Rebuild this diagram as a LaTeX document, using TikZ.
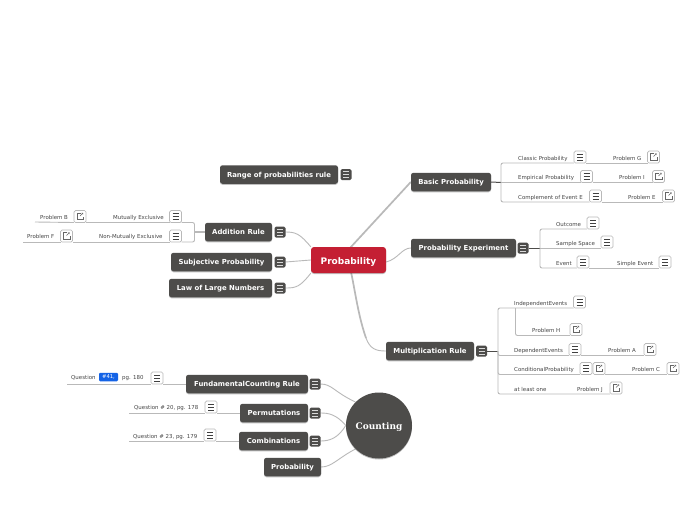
\documentclass[tikz,border=0pt]{standalone}
\usepackage{fontspec}
\setmainfont{DejaVu Sans}
\newfontfamily\serifb{DejaVu Serif}
\usetikzlibrary{shadows}
\definecolor{dk}{HTML}{4D4C4A}
\definecolor{rd}{HTML}{C41F33}
\definecolor{ln}{HTML}{B9B9B9}
\definecolor{tx}{HTML}{444444}
\definecolor{bl}{HTML}{1463E6}
\pgfdeclarelayer{bg}\pgfsetlayers{bg,main}
\tikzset{
 x=1pt,y=-1pt,
 softshadow/.style={drop shadow={shadow xshift=0pt,shadow yshift=-1pt,opacity=.25,fill=black}},
 topic/.style={fill=dk,rounded corners=2.5pt,text=white,font=\fontsize{6.9}{8}\selectfont\bfseries,inner sep=0pt,minimum height=18.5pt,text height=6pt,text depth=1pt,softshadow},
 root/.style={fill=rd,rounded corners=3pt,text=white,font=\fontsize{9}{10}\selectfont\bfseries,inner sep=0pt,minimum width=75pt,minimum height=26pt,text height=8.5pt,text depth=.5pt,softshadow},
 hub/.style={circle,fill=dk,text=white,font=\fontsize{9}{10}\selectfont\serifb\bfseries,inner sep=0pt,minimum size=66pt,text height=8.5pt,text depth=1.5pt,softshadow},
 leaf/.style={anchor=west,inner sep=0pt,text=tx,font=\fontsize{5.45}{6}\selectfont,yshift=-.6pt},
 note/.style={draw=ln,line width=.7pt,fill=white,rounded corners=1.5pt,minimum size=12pt,inner sep=0pt,outer sep=0pt,
   path picture={\draw[sharp corners,black!75,line width=.6pt]
     ([xshift=-3pt,yshift=-3pt]path picture bounding box.center)--++(6pt,0pt)
     ([xshift=-3pt,yshift=0pt]path picture bounding box.center)--++(6pt,0pt)
     ([xshift=-3pt,yshift=3pt]path picture bounding box.center)--++(6pt,0pt);}},
 dnote/.style={fill=dk,rounded corners=1.5pt,minimum size=11pt,inner sep=0pt,outer sep=0pt,
   path picture={\draw[sharp corners,white!85!black,line width=.6pt]
     ([xshift=-3pt,yshift=-3pt]path picture bounding box.center)--++(6pt,0pt)
     ([xshift=-3pt,yshift=0pt]path picture bounding box.center)--++(6pt,0pt)
     ([xshift=-3pt,yshift=3pt]path picture bounding box.center)--++(6pt,0pt);}},
 linkic/.style={draw=ln,line width=.7pt,fill=white,rounded corners=1.5pt,minimum size=12pt,inner sep=0pt,outer sep=0pt,
   path picture={\draw[sharp corners,black!60,line width=.4pt]
     ([xshift=.5pt,yshift=3.5pt]path picture bounding box.center) -- ++(-3.5pt,0pt) -- ++(0pt,-6.5pt) -- ++(6.5pt,0pt) -- ++(0pt,3pt);
     \draw[sharp corners,black!60,line width=.4pt] ([xshift=0pt,yshift=.5pt]path picture bounding box.center) -- ++(3pt,3pt) ++(-1.6pt,0pt) -- ++(1.6pt,0pt) -- ++(0pt,-1.6pt);}},
 wire/.style={draw=ln,line width=.9pt,rounded corners=2pt},
 dwire/.style={draw=dk,line width=1pt},
 curve/.style={draw=ln,line width=.9pt},
 thick wire/.style={draw=ln,line width=1.7pt},
}
\begin{document}
\begin{tikzpicture}
\useasboundingbox (0,0) rectangle (697,520);
\begin{pgfonlayer}{bg}
\fill[white] (0,0) rectangle (697,520);
\end{pgfonlayer}
% bus coordinates
\coordinate (b1) at (501,182.5);
\coordinate (b2) at (540,248);
\coordinate (b3) at (498,351);
\coordinate (b3i) at (515.5,308);
\coordinate (b4) at (194.5,232);
\coordinate (pU) at (350,248);
\coordinate (pD) at (351,272);
\coordinate (e1) at (67,384);
\coordinate (e2) at (129,413);
\coordinate (e3) at (129,441);
\coordinate (e4) at (35,222);
\coordinate (e5) at (23,242);
\node[root] (P) at (348.5,260) {Probability};
\node[hub] (C) at (379,425.5) {Counting};
\node[topic,minimum width=118pt] (range) at (279,174.5) {Range of probabilities rule};
\node[dnote] (irange) at (346,174.5) {};
\node[topic,minimum width=80pt] (basic) at (451,182) {Basic Probability};
\node[topic,minimum width=105pt] (exper) at (463.5,248) {Probability Experiment};
\node[dnote] (iexper) at (523,248) {};
\node[topic,minimum width=88pt] (mult) at (430,351) {Multiplication Rule};
\node[dnote] (imult) at (481.5,351) {};
\node[topic,minimum width=67pt] (add) at (238.5,232) {Addition Rule};
\node[dnote] (iadd) at (280,232) {};
\node[topic,minimum width=101pt] (subj) at (221.5,262) {Subjective Probability};
\node[dnote] (isubj) at (280,262) {};
\node[topic,minimum width=103pt] (law) at (220.5,288) {Law of Large Numbers};
\node[dnote] (ilaw) at (280,288) {};
\node[topic,minimum width=122pt] (fund) at (247,384) {FundamentalCounting Rule};
\node[dnote] (ifund) at (315,384) {};
\node[topic,minimum width=68pt] (perm) at (274,413) {Permutations};
\node[dnote] (iperm) at (315,413) {};
\node[topic,minimum width=69pt] (comb) at (273.5,441) {Combinations};
\node[dnote] (icomb) at (315,441) {};
\node[topic,minimum width=57pt] (cprob) at (292.5,467) {Probability};
% leaves right
\node[leaf] (l1) at (518,158) {Classic Probability};
\node[note] (n1) at (580,157) {};
\node[leaf] (l1b) at (613,158) {Problem G};
\node[linkic] (k1) at (653.5,157) {};
\node[leaf] (l2) at (518,177) {Empirical Probability};
\node[note] (n2) at (586.5,176.5) {};
\node[leaf] (l2b) at (619,177) {Problem I};
\node[linkic] (k2) at (658.5,176.5) {};
\node[leaf] (l3) at (518,197) {Complement of Event E};
\node[note] (n3) at (595.5,196) {};
\node[leaf] (l3b) at (628,197) {Problem E};
\node[linkic] (k3) at (668.5,196) {};
\node[leaf] (l4) at (556,224) {Outcome};
\node[note] (n4) at (593,223) {};
\node[leaf] (l5) at (556,243) {Sample Space};
\node[note] (n5) at (607,242) {};
\node[leaf] (l6) at (556,263) {Event};
\node[note] (n6) at (583,262) {};
\node[leaf] (l6b) at (617,263) {Simple Event};
\node[note] (n6b) at (665,262) {};
\node[leaf] (l7) at (514,303) {IndependentEvents};
\node[note] (n7) at (579.5,302) {};
\node[leaf] (l8) at (532,330) {Problem H};
\node[linkic] (k8) at (576,329.5) {};
\node[leaf] (l9) at (514,350) {DependentEvents};
\node[note] (n9) at (575,349.5) {};
\node[leaf] (l9b) at (608,350) {Problem  A};
\node[linkic] (k9) at (650,349.5) {};
\node[leaf] (l10) at (514,369) {ConditionalProbability};
\node[note] (n10) at (586,368.5) {};
\node[linkic] (k10) at (599,368.5) {};
\node[leaf] (l10b) at (632,369) {Problem C};
\node[linkic] (k10b) at (673,368.5) {};
\node[leaf] (l11) at (514,389) {at least one};
\node[leaf] (l11b) at (577,389) {Problem J};
\node[linkic] (k11) at (616,388) {};
% leaves left
\node[leaf] (l12) at (113,217) {Mutually Exclusive};
\node[note] (n12) at (175.5,216.5) {};
\node[leaf] (l12b) at (40,217) {Problem B};
\node[linkic] (k12) at (80,216.5) {};
\node[leaf] (l13) at (99,236) {Non-Mutually Exclusive};
\node[note] (n13) at (175.5,236) {};
\node[leaf] (l13b) at (27,236) {Problem F};
\node[linkic] (k13) at (66.5,236) {};
% counting leaves
\node[leaf] (q1) at (71,377) {Question};
\node[fill=bl,rounded corners=1.2pt,text=white,inner sep=0pt,minimum width=19pt,minimum height=8.5pt,font=\fontsize{5.3}{6}\selectfont] (q1t) at (108.5,377) {\#41,};
\node[leaf] (q1b) at (122,377) {pg. 180};
\node[note] (n14) at (157,378) {};
\node[leaf] (q2) at (134,407) {Question \# 20, pg. 178};
\node[note] (n15) at (211,407) {};
\node[leaf] (q3) at (133,436) {Question \# 23, pg. 179};
\node[note] (n16) at (210,435) {};
\begin{pgfonlayer}{bg}
% root connectors
\draw[thick wire] (pU) -- (basic.west);
\draw[curve] (P.east) ++(0,2) .. controls (398,259) and (402,248) .. (exper.west);
\draw[thick wire] (pD) .. controls (355,290) and (358,315) .. (366,338);
\draw[curve] (366,338) .. controls (370,349) and (376,351) .. (mult.west);
\draw[curve] (iadd.east) .. controls (296,232) and (300,234) .. (P.north west);
\draw[curve] (isubj.east) -- (P.west);
\draw[curve] (ilaw.east) .. controls (296,288) and (300,287) .. (P.south west);
% hub connectors
\draw[curve] (ifund.east) .. controls (332,384) and (334,392) .. (C.north west);
\draw[curve] (iperm.east) .. controls (328,413) and (336,414) .. (C.west);
\draw[curve] (icomb.east) .. controls (330,441) and (338,438) .. (C.west);
\draw[curve] (cprob.east) .. controls (332,467) and (338,458) .. (C.south west);
% branch stems
\draw[dwire] (basic.east) -- (b1);
\draw[dwire] (iexper.east) -- (b2);
\draw[dwire] (imult.east) -- (b3);
\draw[draw=ln,line width=1.2pt] (add.west) -- (b4);
% basic
\draw[wire] (b1) |- (n1.south west);
\draw[wire] (n1.south east) -- (k1.south west);
\draw[wire] (b1) -- (n2.south west);
\draw[wire] (n2.south east) -- (k2.south west);
\draw[wire] (b1) |- (n3.south west);
\draw[wire] (n3.south east) -- (k3.south west);
% experiment
\draw[wire] (b2) |- (n4.south west);
\draw[wire] (b2) -- (n5.south west);
\draw[wire] (b2) |- (n6.south west);
\draw[wire] (n6.south east) -- (n6b.south west);
% multiplication
\draw[wire] (b3) |- (n7.south west);
\draw[wire] (b3i) |- (k8.south west);
\draw[wire] (b3) |- (n9.south west);
\draw[wire] (n9.south east) -- (k9.south west);
\draw[wire] (b3) |- (n10.south west);
\draw[wire] (k10.south east) -- (k10b.south west);
\draw[wire] (b3) |- (k11.south west);
% addition
\draw[wire] (b4) |- (n12.south east);
\draw[wire] (n12.south west) -- (k12.south east);
\draw[wire] (k12.south west) -- (e4);
\draw[wire] (b4) |- (n13.south east);
\draw[wire] (n13.south west) -- (k13.south east);
\draw[wire] (k13.south west) -- (e5);
% counting
\draw[wire] (fund.west) -- (n14.south east);
\draw[wire] (n14.south west) -- (e1);
\draw[wire] (perm.west) -- (n15.south east);
\draw[wire] (n15.south west) -- (e2);
\draw[wire] (comb.west) -- (n16.south east);
\draw[wire] (n16.south west) -- (e3);
\end{pgfonlayer}
\end{tikzpicture}
\end{document}
